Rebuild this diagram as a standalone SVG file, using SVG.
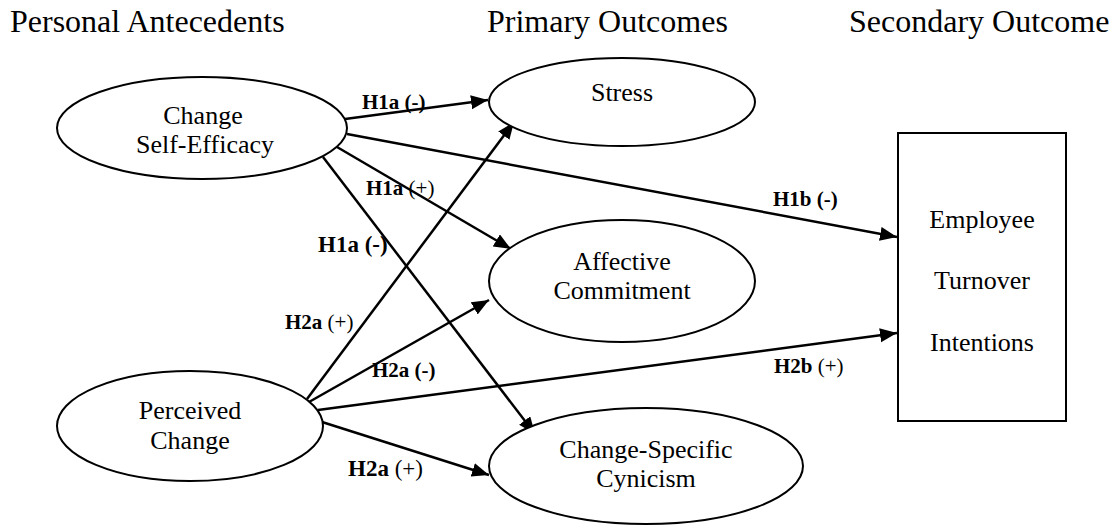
<svg xmlns="http://www.w3.org/2000/svg" width="1112" height="526" viewBox="0 0 1112 526">
<style>
.hdr{font-family:"Liberation Serif","Times New Roman",serif;font-size:32px;fill:#000}
.nt{font-family:"Liberation Serif","Times New Roman",serif;font-size:26px;fill:#000;text-anchor:middle}
.shape{fill:#fff;stroke:#000;stroke-width:2}
.edge{stroke:#000;stroke-width:2.5;fill:none;marker-end:url(#ah)}
.lbl{font-family:"Liberation Serif","Times New Roman",serif;font-size:21px;fill:#000}
.lbl-l{font-size:23px}
.b{font-weight:bold}
</style>
<defs>
<marker id="ah" markerUnits="userSpaceOnUse" markerWidth="18" markerHeight="15" refX="17" refY="7" orient="auto">
<path d="M0,0 L17,7 L0,14 z" fill="#000"/>
</marker>
</defs>
<rect width="1112" height="526" fill="#fff"/>
<g id="headers">
<text class="hdr" x="10" y="32">Personal Antecedents</text>
<text class="hdr" x="487" y="32">Primary Outcomes</text>
<text class="hdr" x="849" y="32">Secondary Outcome</text>
</g>
<g id="connectors">
<line class="edge" x1="345" y1="119" x2="488" y2="100"/>
<line class="edge" x1="347" y1="134" x2="897" y2="237"/>
<line class="edge" x1="337" y1="147" x2="511" y2="249"/>
<line class="edge" x1="323" y1="157" x2="535" y2="434"/>
<line class="edge" x1="307" y1="399" x2="514" y2="122"/>
<line class="edge" x1="309" y1="402" x2="489" y2="300"/>
<line class="edge" x1="318" y1="410" x2="897" y2="333"/>
<line class="edge" x1="322" y1="422" x2="489" y2="475"/>
</g>
<g id="edge-labels">
<text class="lbl" x="362" y="109"><tspan class="b">H1a (-)</tspan></text>
<text class="lbl" x="366" y="195"><tspan class="b">H1a</tspan> (+)</text>
<text class="lbl lbl-l" x="318" y="252"><tspan class="b">H1a (-)</tspan></text>
<text class="lbl" x="773" y="206"><tspan class="b">H1b (-)</tspan></text>
<text class="lbl" x="285" y="329"><tspan class="b">H2a</tspan> (+)</text>
<text class="lbl" x="372" y="377"><tspan class="b">H2a (-)</tspan></text>
<text class="lbl" x="774" y="373"><tspan class="b">H2b</tspan> (+)</text>
<text class="lbl lbl-l" x="348" y="476"><tspan class="b">H2a</tspan> (+)</text>
</g>
<g id="node-cse">
<ellipse class="shape" cx="202" cy="128" rx="145" ry="51"/>
<text class="nt" x="203" y="124">Change</text>
<text class="nt" x="205" y="153">Self-Efficacy</text>
</g>
<g id="node-pc">
<ellipse class="shape" cx="190" cy="426" rx="133" ry="55"/>
<text class="nt" x="190" y="419">Perceived</text>
<text class="nt" x="190" y="449">Change</text>
</g>
<g id="node-stress">
<ellipse class="shape" cx="622" cy="102" rx="133" ry="44"/>
<text class="nt" x="622" y="101">Stress</text>
</g>
<g id="node-affective">
<ellipse class="shape" cx="622" cy="281" rx="133" ry="61"/>
<text class="nt" x="622" y="270">Affective</text>
<text class="nt" x="622" y="299">Commitment</text>
</g>
<g id="node-cynicism">
<ellipse class="shape" cx="646" cy="466" rx="157" ry="58"/>
<text class="nt" x="646" y="458">Change-Specific</text>
<text class="nt" x="646" y="487">Cynicism</text>
</g>
<g id="node-turnover">
<rect class="shape" x="898" y="133" width="168" height="288"/>
<text class="nt" x="982" y="228">Employee</text>
<text class="nt" x="982" y="289">Turnover</text>
<text class="nt" x="982" y="351">Intentions</text>
</g>
</svg>
